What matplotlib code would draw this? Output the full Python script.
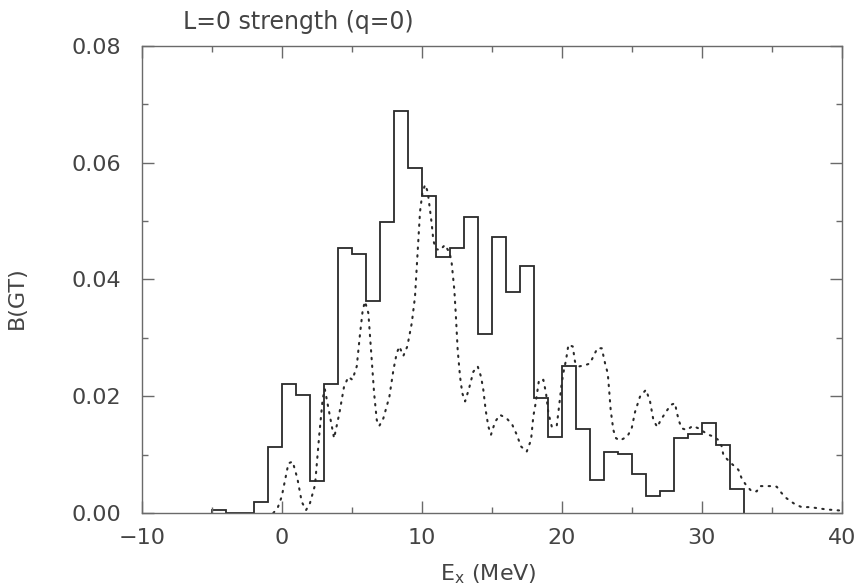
import numpy as np
import matplotlib
matplotlib.use("Agg")
from matplotlib import pyplot as plt
from matplotlib.ticker import MultipleLocator, FuncFormatter

# histogram: 1 MeV bins, left edges from -5 to 32 MeV
hist_edges = np.arange(-5, 34, 1)
hist_vals = [0.0005, 0.0, 0.0, 0.0018, 0.0113, 0.0221, 0.0202, 0.0054, 0.0221,
             0.0453, 0.0443, 0.0363, 0.0499, 0.0688, 0.0591, 0.0543, 0.0439,
             0.0453, 0.0506, 0.0306, 0.0473, 0.0379, 0.0423, 0.0196, 0.0130,
             0.0251, 0.0144, 0.0057, 0.0104, 0.0101, 0.0067, 0.0029, 0.0037,
             0.0128, 0.0135, 0.0154, 0.0116, 0.0041]

# smoothed (dotted) strength
smooth_e = [-0.6, -0.3, 0.0, 0.48, 0.78, 1.12, 1.43, 1.74, 2.02, 2.38, 2.69, 2.93,
            3.08, 3.4, 3.74, 4.12, 4.45, 4.76, 5.05, 5.36, 5.6, 5.79, 5.95, 6.19,
            6.36, 6.6, 6.79, 6.97, 7.26, 7.69, 7.98, 8.21, 8.4, 8.69, 8.97, 9.29,
            9.52, 9.69, 9.88, 10.05, 10.24, 10.43, 10.71, 10.83, 11.0, 11.31, 11.66,
            12.0, 12.14, 12.33, 12.43, 12.57, 12.74, 12.9, 13.1, 13.38, 13.69, 14.0,
            14.24, 14.4, 14.57, 14.76, 14.95, 15.24, 15.59, 16.07, 16.47, 16.79,
            17.09, 17.5, 17.81, 17.97, 18.14, 18.38, 18.69, 18.88, 19.05, 19.29,
            19.64, 19.81, 20.0, 20.16, 20.31, 20.48, 20.79, 20.95, 21.26, 21.67,
            22.02, 22.26, 22.55, 22.86, 23.1, 23.29, 23.38, 23.5, 23.69, 23.88,
            24.16, 24.69, 25.0, 25.24, 25.59, 26.02, 26.31, 26.55, 26.83, 27.07,
            27.45, 27.79, 28.1, 28.21, 28.4, 28.57, 28.93, 29.36, 29.76, 30.47,
            30.83, 31.19, 31.43, 31.55, 31.97, 32.62, 32.86, 33.16, 33.57, 33.93,
            34.16, 34.52, 34.88, 35.36, 35.71, 36.07, 36.66, 37.14, 37.74, 38.33,
            38.93, 39.52, 40.0]
smooth_b = [0.0, 0.0008, 0.0028, 0.0085, 0.0088, 0.0059, 0.0019, 0.0005, 0.0017,
            0.0048, 0.0136, 0.0196, 0.0212, 0.0171, 0.0128, 0.0171, 0.0216, 0.0233,
            0.0228, 0.0251, 0.0308, 0.0348, 0.0362, 0.0342, 0.0285, 0.0205, 0.0159,
            0.0149, 0.0162, 0.0199, 0.0245, 0.0273, 0.0285, 0.0269, 0.0285, 0.0325,
            0.0370, 0.0439, 0.0516, 0.0548, 0.0562, 0.0550, 0.0496, 0.0467, 0.0452,
            0.0450, 0.0459, 0.0445, 0.0428, 0.0382, 0.0342, 0.0279, 0.0233, 0.0205,
            0.0191, 0.0213, 0.0242, 0.0251, 0.0233, 0.0211, 0.0176, 0.0148, 0.0134,
            0.0156, 0.0168, 0.0162, 0.0151, 0.0134, 0.0114, 0.0105, 0.0125, 0.0165,
            0.0188, 0.0228, 0.0228, 0.0205, 0.0171, 0.0148, 0.0148, 0.0182, 0.0222,
            0.0245, 0.0262, 0.0288, 0.0285, 0.0259, 0.0251, 0.0253, 0.0256, 0.0268,
            0.0282, 0.0282, 0.0256, 0.0239, 0.0213, 0.0176, 0.0142, 0.0128, 0.0124,
            0.0131, 0.0145, 0.0173, 0.0199, 0.0211, 0.0191, 0.0159, 0.0147, 0.0159,
            0.0173, 0.0185, 0.0188, 0.0173, 0.0156, 0.0145, 0.0142, 0.0149, 0.0145,
            0.0134, 0.0131, 0.0125, 0.0114, 0.0099, 0.0088, 0.0074, 0.0059, 0.0048,
            0.0037, 0.0037, 0.0046, 0.0046, 0.0046, 0.0045, 0.0034, 0.0025, 0.0015,
            0.0010, 0.0010, 0.0008, 0.0006, 0.0005, 0.0004]

ink = '#2a2a2a'
frame = '#6a6a6a'

fig = plt.figure(figsize=(8.6, 5.88), dpi=100)
ax = fig.add_axes([0.1648, 0.1276, 0.8139, 0.7947])

ax.stairs(hist_vals, hist_edges, color=ink, linewidth=1.3, baseline=0)
ax.plot(smooth_e, smooth_b, color=ink, linewidth=1.5,
        linestyle=(0, (0.7, 3.0)), dash_capstyle='round')

ax.set_xlim(-10, 40)
ax.set_ylim(0, 0.08)

ax.xaxis.set_major_locator(MultipleLocator(10))
ax.xaxis.set_minor_locator(MultipleLocator(5))
ax.yaxis.set_major_locator(MultipleLocator(0.02))
ax.yaxis.set_minor_locator(MultipleLocator(0.01))
ax.yaxis.set_major_formatter(FuncFormatter(lambda v, p: '%.2f' % v))
ax.xaxis.set_major_formatter(FuncFormatter(lambda v, p: ('\u2212%d' % -v) if v < 0 else '%d' % v))

ax.tick_params(which='both', direction='in', top=True, right=True,
               color=frame, width=1.0, labelcolor='#444444', labelsize=16)
ax.tick_params(which='major', length=8.6)
ax.tick_params(which='minor', length=4.3)
ax.tick_params(axis='y', which='major', pad=15)
ax.tick_params(axis='x', which='major', pad=11)

for s in ax.spines.values():
    s.set_color(frame)
    s.set_linewidth(1.0)

ax.set_ylabel('B(GT)', fontsize=16, color='#444444')
ax.yaxis.set_label_coords(-0.164, 0.46)
ax.set_xlabel(r'E$_{\mathregular{x}}$ (MeV)', fontsize=16, color='#444444')
ax.xaxis.set_label_coords(0.495, -0.105)

ax.text(0.059, 1.025, 'L=0 strength (q=0)', transform=ax.transAxes,
        fontsize=17, color='#444444', ha='left', va='bottom')

fig.savefig('out.png', dpi=100)
